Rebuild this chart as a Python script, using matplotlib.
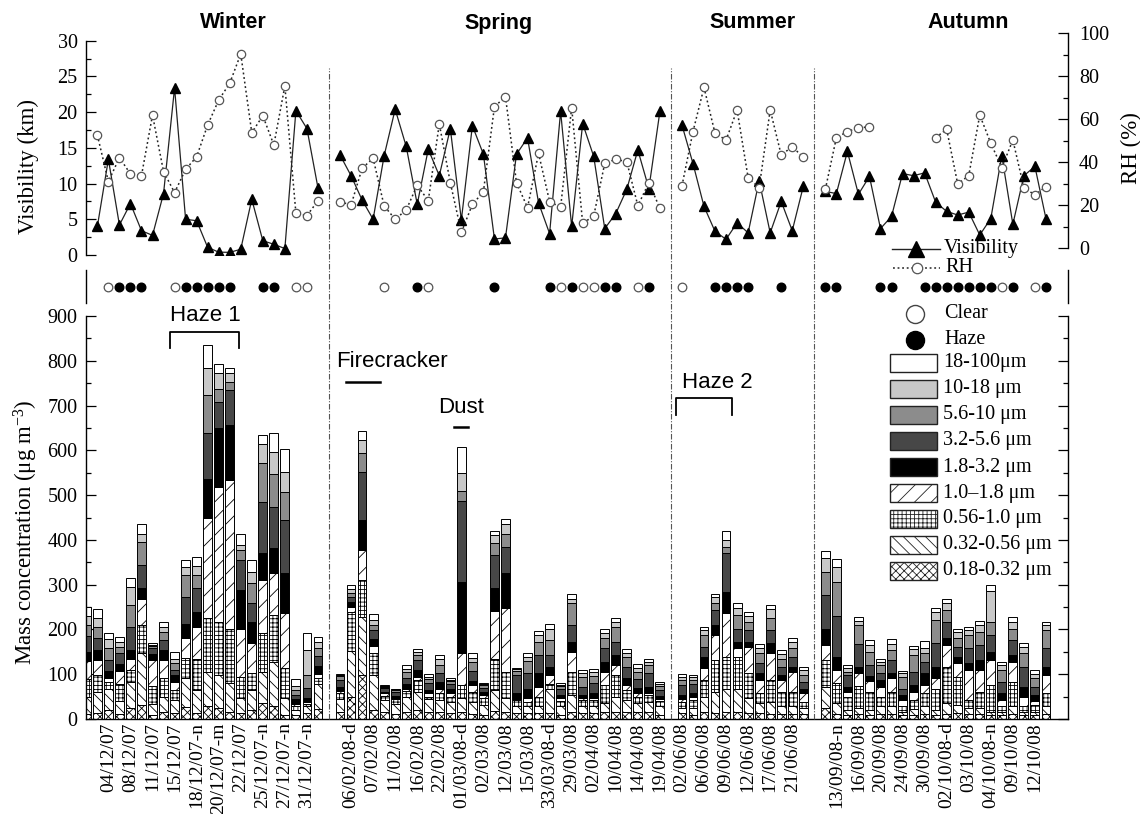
import numpy as np
import matplotlib
matplotlib.use('Agg')
import matplotlib.pyplot as plt
from matplotlib.patches import Rectangle
from matplotlib.lines import Line2D
import matplotlib.transforms as mtransforms
from matplotlib.ticker import MultipleLocator

plt.rcParams['font.family'] = ['Liberation Serif', 'DejaVu Serif']
plt.rcParams['mathtext.fontset'] = 'custom'
plt.rcParams['mathtext.rm'] = 'Liberation Serif'
plt.rcParams['mathtext.it'] = 'Liberation Serif:italic'
plt.rcParams['hatch.linewidth'] = 0.6

nan = np.nan

# ---------------- data ----------------
seasons = ['Winter', 'Spring', 'Summer', 'Autumn']
bin_labels = ['0.18-0.32 \u03bcm', '0.32-0.56 \u03bcm', '0.56-1.0 \u03bcm', '1.0\u20131.8 \u03bcm',
              '1.8-3.2 \u03bcm', '3.2-5.6 \u03bcm', '5.6-10 \u03bcm', '10-18 \u03bcm', '18-100\u03bcm']

# mass per size bin (bottom -> top), one row per sample
winter_bins = [
    [12, 38, 40, 40, 20, 35, 25, 20, 20], [13, 48, 37, 34, 22, 26, 26, 19, 20],
    [20, 48, 15, 8, 16, 25, 26, 20, 13], [12, 28, 38, 30, 14, 25, 14, 11, 12],
    [25, 58, 27, 25, 20, 50, 50, 40, 20], [31, 116, 63, 59, 23, 52, 52, 18, 21],
    [8, 25, 40, 58, 15, 12, 4, 4, 3], [16, 34, 41, 41, 22, 22, 19, 11, 10],
    [13, 29, 23, 18, 15, 11, 15, 11, 14], [27, 65, 45, 45, 30, 61, 48, 19, 15],
    [13, 52, 70, 70, 35, 52, 29, 20, 21], [28, 78, 119, 223, 89, 101, 85, 60, 52],
    [24, 74, 119, 302, 130, 59, 30, 34, 20], [16, 64, 122, 331, 123, 78, 19, 19, 12],
    [13, 33, 48, 108, 86, 67, 22, 11, 26], [20, 45, 37, 67, 48, 41, 45, 26, 26],
    [35, 71, 85, 119, 60, 115, 86, 44, 20], [28, 100, 104, 93, 56, 93, 74, 49, 41],
    [9, 37, 67, 123, 89, 119, 63, 45, 52], [9, 11, 8, 5, 11, 10, 11, 8, 16],
    [13, 15, 5, 5, 10, 22, 28, 55, 38], [22, 56, 14, 8, 18, 23, 18, 13, 12],
]
spring_bins = [
    [15, 30, 12, 5, 10, 15, 8, 3, 2], [50, 102, 88, 10, 12, 11, 9, 8, 10],
    [98, 130, 82, 67, 67, 108, 41, 29, 21], [20, 78, 49, 17, 15, 19, 11, 11, 14],
    [16, 26, 10, 5, 4, 8, 3, 2, 2], [12, 22, 10, 4, 4, 8, 4, 2, 2],
    [15, 35, 12, 6, 10, 14, 12, 8, 9], [20, 41, 26, 7, 15, 23, 11, 7, 6],
    [16, 28, 6, 7, 8, 15, 9, 5, 6], [16, 26, 15, 11, 15, 19, 19, 12, 11],
    [14, 24, 12, 8, 8, 12, 6, 4, 4], [16, 30, 30, 71, 159, 180, 24, 39, 58],
    [12, 25, 23, 15, 10, 22, 20, 10, 10], [10, 22, 14, 8, 6, 10, 5, 3, 3],
    [18, 47, 68, 108, 51, 75, 25, 18, 10], [16, 30, 60, 142, 77, 60, 28, 22, 12],
    [13, 15, 14, 3, 13, 41, 9, 4, 3], [13, 15, 11, 7, 22, 34, 27, 10, 8],
    [13, 15, 22, 22, 30, 41, 30, 15, 8], [13, 55, 10, 20, 19, 26, 33, 26, 10],
    [10, 20, 10, 6, 8, 12, 7, 4, 4], [16, 38, 52, 44, 23, 37, 48, 11, 10],
    [13, 15, 14, 4, 8, 18, 22, 8, 7], [13, 15, 14, 4, 12, 22, 17, 8, 6],
    [16, 20, 40, 30, 22, 30, 22, 13, 8], [16, 34, 48, 23, 22, 30, 33, 11, 8],
    [16, 26, 23, 11, 15, 26, 22, 9, 8], [16, 20, 14, 8, 12, 20, 16, 9, 7],
    [16, 22, 15, 6, 13, 30, 18, 8, 7], [10, 18, 12, 4, 7, 14, 9, 4, 4],
]
summer_bins = [
    [13, 11, 15, 6, 8, 22, 12, 7, 6], [10, 15, 17, 8, 8, 20, 10, 5, 5],
    [16, 34, 37, 28, 24, 22, 27, 11, 7], [13, 48, 71, 56, 22, 33, 15, 15, 7],
    [16, 52, 71, 97, 48, 86, 15, 15, 20], [16, 52, 71, 19, 15, 29, 30, 15, 11],
    [13, 33, 56, 58, 13, 26, 18, 13, 10], [13, 22, 22, 30, 15, 23, 22, 11, 9],
    [11, 28, 48, 60, 22, 30, 26, 20, 9], [11, 17, 33, 26, 11, 19, 18, 10, 8],
    [11, 17, 33, 45, 11, 22, 19, 15, 9], [11, 13, 15, 18, 11, 15, 15, 11, 8],
]
autumn_bins = [
    [24, 48, 60, 33, 37, 75, 52, 31, 15], [11, 24, 45, 29, 30, 90, 78, 33, 18],
    [9, 11, 30, 10, 12, 26, 7, 8, 8], [11, 13, 50, 28, 15, 50, 43, 9, 8],
    [9, 11, 40, 25, 10, 25, 30, 15, 11], [11, 17, 22, 22, 15, 15, 18, 8, 5],
    [11, 17, 33, 30, 11, 30, 22, 13, 11], [9, 7, 12, 14, 12, 14, 26, 8, 6],
    [9, 13, 20, 19, 15, 30, 37, 13, 7], [11, 17, 29, 19, 26, 26, 19, 11, 16],
    [9, 11, 48, 23, 26, 52, 52, 19, 7], [11, 24, 82, 48, 15, 37, 26, 15, 9],
    [13, 18, 63, 30, 15, 22, 19, 15, 7], [11, 13, 18, 67, 15, 34, 30, 11, 7],
    [11, 13, 37, 48, 23, 33, 30, 15, 9], [9, 7, 60, 56, 18, 38, 29, 69, 13],
    [9, 7, 12, 14, 15, 26, 26, 11, 8], [11, 17, 55, 45, 15, 33, 26, 15, 10],
    [9, 7, 12, 22, 22, 45, 30, 13, 9], [9, 7, 15, 10, 12, 18, 20, 10, 8],
    [11, 17, 29, 41, 19, 41, 41, 11, 7],
]

winter_vis = [nan, 4.0, 13.4, 4.2, 7.2, 3.4, 2.75, 8.6, 23.4, 5.0, 4.8, 1.07, 0.4, 0.37, 0.8,
              7.8, 2.0, 1.5, 0.9, 20.2, 17.7, 9.4]
winter_rh = [nan, 52.6, 30.9, 42.1, 34.5, 33.7, 61.9, 35.6, 25.8, 36.6, 42.5, 57.3, 68.9, 76.7,
             90.4, 53.7, 61.6, 48.0, 75.5, 16.2, 15.1, 22.0]
spring_vis = [14.0, 11.1, 7.7, 5.0, 13.9, 20.4, 15.2, 7.1, 14.8, 11.1, 17.7, 4.9, 18.1, 14.1, 2.24,
              2.4, 14.1, 16.4, 7.3, 3.0, 20.1, 4.0, 18.4, 13.8, 3.7, 5.8, 9.2, 14.7, 9.3, 20.1]
spring_rh = [21.6, 20.0, 37.1, 41.8, 19.6, 13.4, 17.7, 29.3, 22.0, 57.8, 30.4, 7.3, 20.3, 26.2, 65.8,
             70.5, 30.4, 18.8, 44.1, 21.6, 19.0, 65.4, 11.5, 14.9, 39.4, 41.3, 40.2, 19.7, 30.4, 18.5]
summer_vis = [18.2, 12.8, 6.8, 3.3, 2.2, 4.5, 3.1, 10.4, 3.1, 7.5, 3.4, 9.6]
summer_rh = [28.9, 54.2, 74.8, 53.4, 50.3, 64.3, 32.7, 28.1, 64.3, 43.3, 47.2, 42.2]
autumn_vis = [8.9, 8.6, 14.5, 8.5, 11.0, 3.7, 5.4, 11.4, 11.1, 11.5, 7.4, 6.1, 5.6, 6.0, 2.8, 5.1,
              13.9, 4.3, 11.1, 12.4, 5.1]
autumn_rh = [27.3, 51.4, 54.2, 56.0, 56.4, nan, nan, nan, nan, nan, 51.4, 55.3, 29.8, 33.7, 61.9,
             48.8, 37.4, 50.3, 28.1, 24.7, 28.6]

# sky condition per sample: C = clear, H = haze, . = none
winter_sky = "..CHHH..CHHHHH..HH.CC."
spring_sky = "....C..HC.....H....HCHCCHH.CH."
summer_sky = "C..HHHH..H.."
autumn_sky = "HH...HH..HHHHHHHCH.CH"

winter_labels = ['04/12/07', '08/12/07', '11/12/07', '15/12/07', '18/12/07-n', '20/12/07-m',
                 '22/12/07', '25/12/07-n', '27/12/07-n', '31/12/07-n']
spring_labels = ['06/02/08-d', '07/02/08', '11/02/08', '16/02/08', '22/02/08', '01/03/08-d',
                 '02/03/08', '12/03/08', '15/03/08', '33/03/08-d', '29/03/08', '02/04/08',
                 '10/04/08', '14/04/08', '19/04/08']
summer_labels = ['02/06/08', '06/06/08', '09/06/08', '12/06/08', '17/06/08', '21/06/08']
autumn_labels = ['13/09/08-n', '16/09/08', '20/09/08', '24/09/08', '30/09/08', '02/10/08-d',
                 '03/10/08', '04/10/08-n', '09/10/08', '12/10/08']
label_first = [2, 1, 0, 1]   # first labelled sample in each season (every 2nd sample labelled)

season_bins = [winter_bins, spring_bins, summer_bins, autumn_bins]
season_vis = [winter_vis, spring_vis, summer_vis, autumn_vis]
season_rh = [winter_rh, spring_rh, summer_rh, autumn_rh]
season_sky = [winter_sky, spring_sky, summer_sky, autumn_sky]
season_labels = [winter_labels, spring_labels, summer_labels, autumn_labels]

# ---------------- layout helpers ----------------
W, H = 1140, 814
fig = plt.figure(figsize=(W / 100, H / 100), dpi=100)


def fx(px):
    return px / W


def fy(py):
    return 1 - py / H


def rect(l, t, r, b):
    return [l / W, 1 - b / H, (r - l) / W, (b - t) / H]


X_L, X_R = 86, 1068
sizes = [len(b) for b in season_bins]
starts = []
s = 0
for n in sizes:
    starts.append(s)
    s += n + 1
XMAX = s - 1 + 1.0
xlim = (-0.03, XMAX)

TFS = 14.5
ax_vis = fig.add_axes(rect(X_L, 40.7, X_R, 255))
ax_rh = fig.add_axes(rect(X_L, 33.3, X_R, 248))
ax_sky = fig.add_axes(rect(X_L, 270, X_R, 303))
ax_bot = fig.add_axes(rect(X_L, 316, X_R, 719))
for a in (ax_vis, ax_rh, ax_sky, ax_bot):
    a.set_xlim(*xlim)
    a.patch.set_alpha(0)
    for sp in a.spines.values():
        sp.set_linewidth(1.0)

# ---- top: visibility ----
for st, v in zip(starts, season_vis):
    x = st + np.arange(len(v))
    ax_vis.plot(x, v, '-', color='#222222', lw=0.9, marker='^', ms=6.5,
                mfc='black', mec='black', zorder=3)
ax_vis.set_ylim(0, 30)
ax_vis.yaxis.set_major_locator(MultipleLocator(5))
ax_vis.yaxis.set_minor_locator(MultipleLocator(2.5))
for sp in ('top', 'bottom', 'right'):
    ax_vis.spines[sp].set_visible(False)
ax_vis.set_xticks([])
ax_vis.tick_params(axis='y', which='both', direction='in', labelsize=TFS, pad=6)
ax_vis.tick_params(axis='y', which='major', length=7, width=0.9)
ax_vis.tick_params(axis='y', which='minor', length=3.5, width=0.9)

# ---- top: RH ----
for st, r in zip(starts, season_rh):
    x = st + np.arange(len(r))
    ax_rh.plot(x, r, linestyle=(0, (1.2, 1.8)), color='#222222', lw=1.1, marker='o', ms=6,
               mfc='white', mec='#555555', mew=0.9, zorder=3)
ax_rh.set_ylim(0, 100)
ax_rh.yaxis.set_major_locator(MultipleLocator(20))
ax_rh.yaxis.set_minor_locator(MultipleLocator(10))
for sp in ('top', 'bottom', 'left'):
    ax_rh.spines[sp].set_visible(False)
ax_rh.set_xticks([])
ax_rh.yaxis.tick_right()
ax_rh.tick_params(axis='y', which='both', direction='in', labelsize=TFS, pad=8)
ax_rh.tick_params(axis='y', which='major', length=7, width=0.9)
ax_rh.tick_params(axis='y', which='minor', length=3.5, width=0.9)

# ---- sky-condition strip ----
for st, sky in zip(starts, season_sky):
    for j, c in enumerate(sky):
        if c == 'C':
            ax_sky.plot(st + j, 0.5, 'o', ms=6.2, mfc='white', mec='#555555', mew=0.9)
        elif c == 'H':
            ax_sky.plot(st + j, 0.5, 'o', ms=6.2, mfc='black', mec='black')
ax_sky.set_ylim(0, 1)
for sp in ('top', 'bottom'):
    ax_sky.spines[sp].set_visible(False)
ax_sky.set_xticks([])
ax_sky.set_yticks([])

# ---- bottom: stacked bars ----
fills = ['white', 'white', 'white', 'white', 'black', '#474747', '#8c8c8c', '#c8c8c8', 'white']
hatches = ['xxxx', '\\\\\\', '++++', '//', None, None, None, None, None]
for st, rows in zip(starts, season_bins):
    arr = np.array(rows, float)
    x = st + np.arange(len(arr))
    bottom = np.zeros(len(arr))
    for k in range(9):
        ax_bot.bar(x, arr[:, k], bottom=bottom, width=0.8, color=fills[k],
                   edgecolor='black', hatch=hatches[k], linewidth=0.7, zorder=2)
        bottom += arr[:, k]
ax_bot.set_ylim(0, 900)
ax_bot.spines['top'].set_visible(False)
ax_bot.yaxis.set_major_locator(MultipleLocator(100))
ax_bot.yaxis.set_minor_locator(MultipleLocator(50))
ax_bot.tick_params(axis='y', which='both', direction='in', left=True, right=True,
                   labelsize=TFS, pad=6)
ax_bot.tick_params(axis='y', which='major', length=7, width=0.9)
ax_bot.tick_params(axis='y', which='minor', length=3.5, width=0.9)

tick_pos, tick_lab = [], []
for st, labs, f in zip(starts, season_labels, label_first):
    for k, lab in enumerate(labs):
        tick_pos.append(st + f + 2 * k)
        tick_lab.append(lab)
ax_bot.set_xticks(tick_pos)
ax_bot.set_xticklabels(tick_lab, rotation=90, fontsize=14)
ax_bot.tick_params(axis='x', length=0, pad=2.5)

# ---- season separators ----
btrans = mtransforms.blended_transform_factory(ax_bot.transData, fig.transFigure)
for st in starts[1:]:
    fig.add_artist(Line2D([st - 1, st - 1], [fy(719), fy(68)], transform=btrans,
                          color='#555555', lw=0.8, linestyle=(0, (5, 1.5, 1, 1.5))))

# ---- season titles ----
for name, px in zip(seasons, [233, 499, 752, 968]):
    fig.text(fx(px), fy(23), name, ha='center', va='center', fontsize=15.5,
             fontweight='bold', family=['Liberation Sans', 'DejaVu Sans'])

# ---- axis labels ----
fig.text(fx(28), fy(166), 'Visibility (km)', rotation=90, ha='center', va='center', fontsize=16.5)
fig.text(fx(1131), fy(148), 'RH (%)', rotation=90, ha='center', va='center', fontsize=16.5)
fig.text(fx(26), fy(532), 'Mass concentration (\u03bcg m$^{-3}$)', rotation=90,
         ha='center', va='center', fontsize=16.5)

# ---- event annotations (bottom panel, data coords) ----
sans = ['Liberation Sans', 'DejaVu Sans']
w0 = starts[0]
sp0 = starts[1]
su0 = starts[2]
ax_bot.plot([w0 + 7.6, w0 + 7.6, w0 + 13.8, w0 + 13.8], [828, 864, 864, 828], color='black',
            lw=1.3, clip_on=False)
ax_bot.text(w0 + 10.75, 902, 'Haze 1', ha='center', va='center', fontsize=16, family=sans,
            clip_on=False)
ax_bot.plot([sp0 + 0.5, sp0 + 3.6], [753, 753], color='black', lw=1.8)
ax_bot.text(sp0 + 4.7, 798, 'Firecracker', ha='center', va='center', fontsize=16, family=sans)
ax_bot.plot([sp0 + 10.3, sp0 + 11.6], [651, 651], color='black', lw=1.8)
ax_bot.text(sp0 + 10.96, 696, 'Dust', ha='center', va='center', fontsize=16, family=sans)
ax_bot.plot([su0 - 0.5, su0 - 0.5, su0 + 4.5, su0 + 4.5], [679, 717, 717, 679], color='black',
            lw=1.3)
ax_bot.text(su0 + 3.2, 752, 'Haze 2', ha='center', va='center', fontsize=16, family=sans)

# ---- top-panel legend ----
fig.add_artist(Line2D([fx(892), fx(940)], [fy(249), fy(249)], color='#222222', lw=1.0))
fig.add_artist(Line2D([fx(916)], [fy(249)], marker='^', ms=11, color='black', lw=0))
fig.text(fx(944), fy(249), 'Visibility', ha='left', va='center', fontsize=TFS)
fig.add_artist(Line2D([fx(893), fx(940)], [fy(268), fy(268)], color='#222222', lw=1.1,
                      linestyle=(0, (1.2, 1.8))))
fig.add_artist(Line2D([fx(917)], [fy(268)], marker='o', ms=7.5, mfc='white', mec='#555555',
                      mew=0.9, lw=0))
fig.text(fx(945), fy(268), 'RH', ha='left', va='center', fontsize=TFS)

# ---- bottom-panel legend ----
fig.add_artist(Line2D([fx(915)], [fy(314)], marker='o', ms=13, mfc='white', mec='#444444',
                      mew=1.0, lw=0))
fig.text(fx(944), fy(314), 'Clear', ha='left', va='center', fontsize=TFS)
fig.add_artist(Line2D([fx(915)], [fy(340)], marker='o', ms=13, mfc='black', mec='black', lw=0))
fig.text(fx(944), fy(340), 'Haze', ha='left', va='center', fontsize=TFS)
for n, k in enumerate(range(8, -1, -1)):
    yc = 363 + 26 * n
    fig.add_artist(Rectangle((fx(890), fy(yc + 9)), (937 - 890) / W, 18 / H,
                             transform=fig.transFigure, facecolor=fills[k],
                             edgecolor='#222222', hatch=hatches[k], lw=1.0))
    fig.text(fx(943), fy(yc), bin_labels[k], ha='left', va='center', fontsize=TFS)

fig.savefig('out.png', dpi=100)
